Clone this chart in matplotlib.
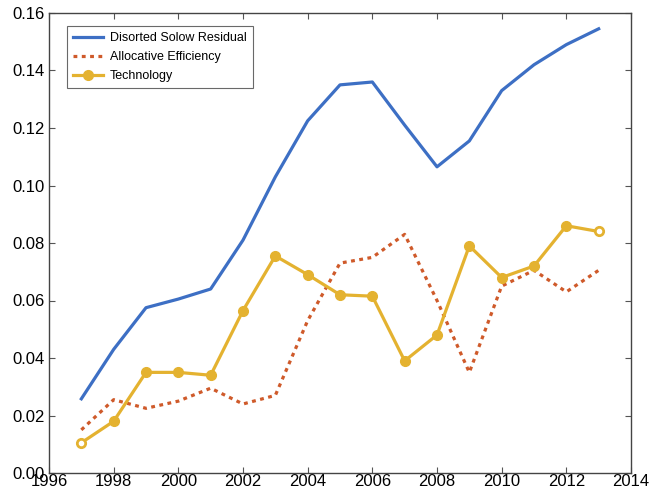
import matplotlib.pyplot as plt

plt.rcParams['font.family'] = ['Liberation Sans', 'DejaVu Sans']

years = list(range(1997, 2014))

# Disorted Solow Residual
solow = [0.0258, 0.043, 0.0575, 0.0605, 0.064, 0.081, 0.103, 0.1225, 0.135,
         0.136, 0.121, 0.1065, 0.1155, 0.133, 0.142, 0.149, 0.1545]
# Allocative Efficiency
alloc = [0.015, 0.0255, 0.0225, 0.025, 0.0295, 0.024, 0.027, 0.053, 0.073,
         0.075, 0.083, 0.060, 0.035, 0.065, 0.0705, 0.063, 0.0705]
# Technology
tech = [0.0105, 0.018, 0.035, 0.035, 0.034, 0.0565, 0.0755, 0.069, 0.062,
        0.0615, 0.039, 0.048, 0.079, 0.068, 0.072, 0.086, 0.084]

xticks = list(range(1996, 2015, 2))
yticks = [0.00, 0.02, 0.04, 0.06, 0.08, 0.10, 0.12, 0.14, 0.16]

blue = '#3d6fc4'
orange = '#cf5a2a'
yellow = '#e4b230'

fig = plt.figure(figsize=(6.52, 4.96), dpi=100)
ax = fig.add_axes([49 / 652, 23 / 496, 582 / 652, 460 / 496])

ax.plot(years, solow, color=blue, lw=2.3, label='Disorted Solow Residual')
ax.plot(years, alloc, color=orange, lw=2.3, ls=(0, (1.2, 1.4)),
        label='Allocative Efficiency')
ax.plot(years, tech, color=yellow, lw=2.3, marker='o', ms=7,
        label='Technology')
# end markers look hollow in the original
ax.plot([years[0], years[-1]], [tech[0], tech[-1]], ls='none', marker='o',
        ms=3, color='white', mec='white')

ax.set_xlim(1996, 2014)
ax.set_ylim(0, 0.16)
ax.set_xticks(xticks)
ax.set_yticks(yticks)
ax.set_yticklabels(['%.2f' % v for v in yticks])
ax.tick_params(direction='in', top=True, right=True, length=4, width=0.8,
               color='#555555', labelsize=12, pad=3)
ax.tick_params(axis='x', pad=1)
for s in ax.spines.values():
    s.set_color('#444444')
    s.set_linewidth(1.0)

leg = ax.legend(loc='upper left', bbox_to_anchor=(18 / 582, 1 - 13 / 460),
                fontsize=9, frameon=True, fancybox=False, edgecolor='#444444',
                handlelength=2.4, borderpad=0.5, labelspacing=0.55,
                handletextpad=0.5, borderaxespad=0)
leg.get_frame().set_linewidth(0.8)

plt.savefig('out.png', dpi=100)
